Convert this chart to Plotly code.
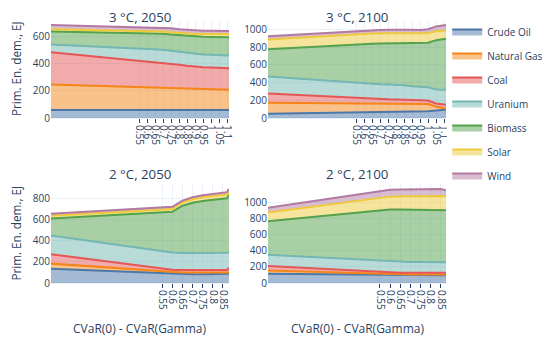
import plotly.graph_objects as go

series_names = ["Crude Oil", "Natural Gas", "Coal", "Uranium", "Biomass", "Solar", "Wind"]
series_colors = ["#4C78A8", "#F58518", "#E45756", "#72B7B2", "#54A24B", "#EECA3B", "#B279A2"]

# ---- 3 °C, 2050 ----
x_3c_2050 = [0, 0.55, 0.6, 0.65, 0.7, 0.75, 0.8, 0.85, 0.9, 0.95, 1.0, 1.05, 1.1, 1.112]
oil_3c_2050 = [60, 60, 60, 60, 60, 60, 60, 60, 60, 60, 60, 60, 60, 60]
gas_3c_2050 = [185, 166, 164, 162, 160, 158, 156, 154, 152, 151, 150, 149, 148, 148]
coal_3c_2050 = [237, 196, 192, 188, 184, 179, 174, 169, 165, 162, 161, 159, 157, 157]
uranium_3c_2050 = [57, 90, 92, 94, 96, 96, 95, 95, 93, 92, 92, 92, 93, 93]
biomass_3c_2050 = [95, 110, 112, 115, 117, 119, 122, 124, 127, 130, 131, 133, 134, 134]
solar_3c_2050 = [16, 18, 18, 17, 17, 17, 17, 18, 19, 20, 21, 22, 24, 24]
wind_3c_2050 = [32, 27, 28, 29, 30, 29, 26, 25, 25, 25, 24, 23, 21, 21]

# ---- 3 °C, 2100 ----
x_3c_2100 = [0, 0.55, 0.6, 0.65, 0.7, 0.75, 0.8, 0.85, 0.9, 0.95, 1.0, 1.05, 1.1, 1.112]
oil_3c_2100 = [50, 62, 64, 65, 67, 68, 70, 72, 74, 76, 78, 85, 93, 95]
gas_3c_2100 = [123, 106, 103, 102, 99, 98, 95, 92, 89, 86, 82, 45, 17, 11]
coal_3c_2100 = [105, 57, 54, 50, 48, 46, 45, 43, 41, 40, 39, 35, 43, 45]
uranium_3c_2100 = [192, 170, 169, 169, 168, 167, 166, 163, 156, 153, 150, 157, 167, 169]
biomass_3c_2100 = [308, 440, 448, 454, 460, 465, 469, 476, 483, 490, 502, 558, 573, 575]
solar_3c_2100 = [109, 115, 115, 116, 116, 116, 117, 116, 115, 113, 111, 100, 94, 93]
wind_3c_2100 = [37, 35, 35, 36, 37, 38, 38, 40, 38, 37, 41, 55, 63, 64]

# ---- 2 °C, 2050 ----
x_2c_2050 = [0, 0.55, 0.6, 0.65, 0.7, 0.75, 0.8, 0.85, 0.87, 0.88]
oil_2c_2050 = [134, 91, 87, 84, 83, 83, 83, 83, 84, 87]
gas_2c_2050 = [49, 19, 16, 16, 17, 17, 17, 17, 16, 13]
coal_2c_2050 = [89, 27, 22, 22, 21, 21, 21, 21, 22, 44]
uranium_2c_2050 = [176, 164, 163, 162, 162, 162, 162, 163, 164, 150]
biomass_2c_2050 = [160, 366, 384, 446, 475, 492, 501, 510, 514, 538]
solar_2c_2050 = [26, 21, 26, 32, 33, 35, 39, 35, 35, 26]
wind_2c_2050 = [19, 26, 22, 16, 19, 19, 19, 22, 23, 29]

# ---- 2 °C, 2100 ----
x_2c_2100 = [0, 0.55, 0.6, 0.65, 0.7, 0.75, 0.8, 0.85, 0.875]
oil_2c_2100 = [114, 96, 95, 95, 95, 95, 95, 95, 95]
gas_2c_2100 = [42, 14, 11, 11, 11, 11, 11, 11, 11]
coal_2c_2100 = [54, 23, 20, 20, 20, 20, 20, 20, 20]
uranium_2c_2100 = [139, 139, 139, 136, 134, 134, 132, 132, 132]
biomass_2c_2100 = [416, 628, 647, 648, 648, 646, 647, 646, 645]
solar_2c_2100 = [109, 155, 159, 165, 170, 174, 175, 176, 172]
wind_2c_2100 = [58, 81, 84, 83, 82, 82, 83, 85, 75]

ticks_long = [0.55, 0.6, 0.65, 0.7, 0.75, 0.8, 0.85, 0.9, 0.95, 1.0, 1.05, 1.1]
ticks_long_text = ["0.55", "0.6", "0.65", "0.7", "0.75", "0.8", "0.85", "0.9", "0.95", "1", "1.05", "1.1"]
ticks_short = [0.55, 0.6, 0.65, 0.7, 0.75, 0.8, 0.85]
ticks_short_text = ["0.55", "0.6", "0.65", "0.7", "0.75", "0.8", "0.85"]
yticks_tl = [0, 200, 400, 600]
yticks_tr = [0, 200, 400, 600, 800, 1000]
yticks_bl = [0, 200, 400, 600, 800]
yticks_br = [0, 200, 400, 600, 800, 1000]

titles = ["3 °C, 2050", "3 °C, 2100", "2 °C, 2050", "2 °C, 2100"]
x_title = "CVaR(0) - CVaR(Gamma)"
y_title = "Prim. En. dem., EJ"

panels = [
    (x_3c_2050, [oil_3c_2050, gas_3c_2050, coal_3c_2050, uranium_3c_2050, biomass_3c_2050, solar_3c_2050, wind_3c_2050]),
    (x_3c_2100, [oil_3c_2100, gas_3c_2100, coal_3c_2100, uranium_3c_2100, biomass_3c_2100, solar_3c_2100, wind_3c_2100]),
    (x_2c_2050, [oil_2c_2050, gas_2c_2050, coal_2c_2050, uranium_2c_2050, biomass_2c_2050, solar_2c_2050, wind_2c_2050]),
    (x_2c_2100, [oil_2c_2100, gas_2c_2100, coal_2c_2100, uranium_2c_2100, biomass_2c_2100, solar_2c_2100, wind_2c_2100]),
]

FONT = "Open Sans"
TXT = "#2a3f5f"

fig = go.Figure()
for p, (xs, vals) in enumerate(panels):
    ax = "" if p == 0 else str(p + 1)
    for i, (name, color, v) in enumerate(zip(series_names, series_colors, vals)):
        fig.add_trace(go.Scatter(
            x=xs, y=v, name=name, mode="lines",
            line=dict(color=color, width=2),
            stackgroup="s" + str(p),
            legendgroup=name, showlegend=(p == 0),
            xaxis="x" + ax, yaxis="y" + ax,
        ))

xdom_l = [0.027, 0.4655]
xdom_r = [0.5616, 1.0]
ydom_t = [0.627, 1.0]
ydom_b = [0.0, 0.376]

def xax(dom, anchor, tv, tt):
    return dict(domain=dom, anchor=anchor, tickmode="array", tickvals=tv, ticktext=tt,
                tickangle=90, ticks="outside", ticklen=4, tickcolor="#2a3f5f",
                showgrid=True, gridcolor="#EBF0F8", zeroline=False, showline=False,
                automargin=False,
                tickfont=dict(size=10, family=FONT, color=TXT))

def yax(dom, anchor, tv):
    return dict(domain=dom, anchor=anchor, tickmode="array", tickvals=tv,
                showgrid=True, gridcolor="#EBF0F8",
                zeroline=True, zerolinecolor="#EBF0F8", zerolinewidth=2, ticks="",
                automargin=False,
                tickfont=dict(size=10, family=FONT, color=TXT))

fig.update_layout(
    width=542, height=330,
    template="plotly_white",
    margin=dict(l=32, r=104, t=12, b=55, autoexpand=False),
    font=dict(family=FONT, color=TXT),
    xaxis=xax(xdom_l, "y", ticks_long, ticks_long_text),
    xaxis2=xax(xdom_r, "y2", ticks_long, ticks_long_text),
    xaxis3=xax(xdom_l, "y3", ticks_short, ticks_short_text),
    xaxis4=xax(xdom_r, "y4", ticks_short, ticks_short_text),
    yaxis=yax(ydom_t, "x", yticks_tl),
    yaxis2=yax(ydom_t, "x2", yticks_tr),
    yaxis3=yax(ydom_b, "x3", yticks_bl),
    yaxis4=yax(ydom_b, "x4", yticks_br),
    legend=dict(x=1.003, y=1.011, xanchor="left", yanchor="top", tracegroupgap=5,
                font=dict(size=10, family=FONT, color=TXT)),
    showlegend=True,
)

ann = []
centers_x = [sum(xdom_l) / 2, sum(xdom_r) / 2]
for k, t in enumerate(titles):
    cx = centers_x[k % 2]
    cy = 1.0133 if k < 2 else 0.4133
    ann.append(dict(text=t, x=cx, y=cy, xref="paper", yref="paper", showarrow=False,
                    xanchor="center", yanchor="middle",
                    font=dict(size=13.3, family=FONT, color=TXT)))
for cx in centers_x:
    ann.append(dict(text=x_title, x=cx, y=-0.172, xref="paper", yref="paper", showarrow=False,
                    xanchor="center", yanchor="middle",
                    font=dict(size=12, family=FONT, color=TXT)))
for cy in [sum(ydom_t) / 2, sum(ydom_b) / 2]:
    ann.append(dict(text=y_title, x=-0.059, y=cy, xref="paper", yref="paper", showarrow=False,
                    textangle=-90, xanchor="center", yanchor="middle",
                    font=dict(size=11.7, family=FONT, color=TXT)))
fig.update_layout(annotations=ann)

fig.write_html("out.html")
